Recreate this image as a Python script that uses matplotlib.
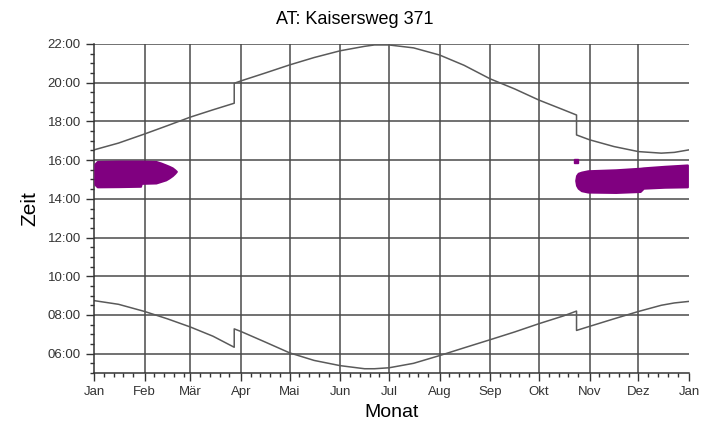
"""Schattenwurf-Kalender: Sonnenauf-/-untergang und Schattenzeiten."""

import matplotlib
import matplotlib.pyplot as plt
from matplotlib.ticker import FixedLocator, FuncFormatter, MultipleLocator

matplotlib.use("Agg")

plt.rcParams["font.family"] = ["Liberation Sans", "DejaVu Sans"]

# month starts (day of year, 0 = 1. Jan)
month_days = [0, 31, 59, 90, 120, 151, 181, 212, 243, 273, 304, 334, 365]
month_labels = ["Jan", "Feb", "Mär", "Apr", "Mai", "Jun", "Jul",
                "Aug", "Sep", "Okt", "Nov", "Dez", "Jan"]

# sunset / sunrise (hours, local time incl. DST jumps)
sun_days = [0, 15, 31, 45, 59, 73, 86, 86, 90, 105, 120, 135, 151, 166, 172,
            181, 196, 212, 227, 243, 258, 273, 288, 296, 296, 304, 319, 334,
            348, 356, 365]
sunset = [16.53, 16.88, 17.35, 17.78, 18.22, 18.6, 18.94, 19.97, 20.09, 20.5,
          20.92, 21.3, 21.65, 21.88, 21.95, 21.95, 21.8, 21.43, 20.9, 20.2,
          19.68, 19.1, 18.6, 18.33, 17.3, 17.05, 16.7, 16.44, 16.36, 16.4, 16.53]
sunrise = [8.74, 8.55, 8.18, 7.8, 7.38, 6.9, 6.33, 7.28, 7.15, 6.6, 6.04,
           5.65, 5.38, 5.22, 5.22, 5.27, 5.5, 5.9, 6.3, 6.72, 7.12, 7.55,
           7.95, 8.2, 7.2, 7.41, 7.8, 8.18, 8.5, 8.62, 8.7]

# shadow periods (start / end hour)
shadow1_days = [0.5, 2, 15, 28.5, 29, 38, 41, 44, 46, 48, 49.5, 50.5]
shadow1_start = [14.75, 14.62, 14.63, 14.65, 14.8, 14.82, 14.9, 14.98,
                 15.08, 15.2, 15.32, 15.42]
shadow1_end = [15.8, 15.93, 15.95, 15.95, 15.95, 15.93, 15.85, 15.75,
               15.68, 15.6, 15.5, 15.42]

shadow2_days = [295.5, 296, 297, 299, 303, 320, 335, 337, 350, 364]
shadow2_start = [14.95, 14.7, 14.55, 14.42, 14.35, 14.33, 14.38, 14.55,
                 14.6, 14.62]
shadow2_end = [14.95, 15.2, 15.32, 15.38, 15.45, 15.5, 15.58, 15.6,
               15.68, 15.75]

dot_day = [295.5]
dot_hour = [15.93]

fig = plt.figure(figsize=(7.14, 4.28), dpi=100)
ax = fig.add_axes([0.1317, 0.1285, 0.8333, 0.7687])

grid_color = "#4a4a4a"
for d in month_days[1:-1]:
    ax.axvline(d, color=grid_color, linewidth=1.1, zorder=1)
for h in range(6, 23, 2):
    ax.axhline(h, color=grid_color, linewidth=1.1, zorder=1)

purple = "#800080"
ax.fill_between(shadow1_days, shadow1_start, shadow1_end, color=purple,
                linewidth=1.5, edgecolor=purple, zorder=3)
ax.fill_between(shadow2_days, shadow2_start, shadow2_end, color=purple,
                linewidth=1.5, edgecolor=purple, zorder=3)
ax.plot(dot_day, dot_hour, "s", color=purple, markersize=3, zorder=3)

line_color = "#5a5a5a"
ax.plot(sun_days, sunset, color=line_color, linewidth=1.1, zorder=2)
ax.plot(sun_days, sunrise, color=line_color, linewidth=1.1, zorder=2)

ax.set_xlim(0, 365)
ax.set_ylim(5, 22)

ax.xaxis.set_major_locator(FixedLocator(month_days))
ax.set_xticklabels(month_labels)
minor_days = [m + k for m in month_days[:-1] for k in (6, 12, 18, 24)]
ax.xaxis.set_minor_locator(FixedLocator(minor_days))

ax.yaxis.set_major_locator(FixedLocator(range(6, 23, 2)))
ax.yaxis.set_major_formatter(FuncFormatter(lambda v, _: f"{int(v):02d}:00"))
ax.yaxis.set_minor_locator(MultipleLocator(0.5))

ax.tick_params(axis="both", which="major", labelsize=9.5, colors="#333333",
               length=6, width=1, direction="out")
ax.tick_params(axis="both", which="minor", length=3, width=1,
               color="#333333", direction="out")

for side in ("top", "right"):
    ax.spines[side].set_visible(False)
for side in ("left", "bottom"):
    ax.spines[side].set_color("#333333")
    ax.spines[side].set_linewidth(1.1)

ax.set_xlabel("Monat", fontsize=14, labelpad=4)
ax.set_ylabel("Zeit", fontsize=15, labelpad=6)
fig.text(0.497, 0.935, "AT: Kaisersweg 371", ha="center", va="bottom",
         fontsize=13)

fig.savefig("out.png", dpi=100)
plt.close(fig)
